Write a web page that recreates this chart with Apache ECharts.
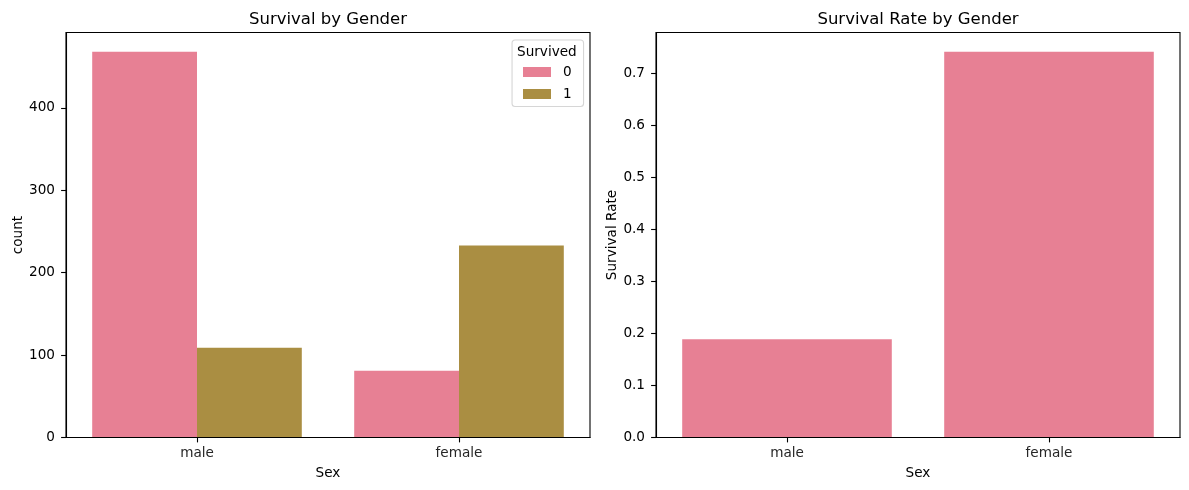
<!DOCTYPE html>
<html>
<head>
<meta charset="utf-8">
<style>html,body{margin:0;padding:0;background:#fff}#c{width:1189px;height:490px}</style>
<script src="https://cdn.jsdelivr.net/npm/echarts@6/dist/echarts.min.js"></script>
</head>
<body>
<div id="c"></div>
<script>
const categories = ["male", "female"];
const survivedNo = [468, 81];
const survivedYes = [109, 233];
const survivalRate = [0.189, 0.742];
const countTicks = [0, 100, 200, 300, 400];
const rateTicks = [0, 0.1, 0.2, 0.3, 0.4, 0.5, 0.6, 0.7];
const FONT = "DejaVu Sans";
const PINK = "#e78094", GOLD = "#aa8e42";

const chart = echarts.init(document.getElementById("c"), null, {renderer: "canvas"});
function xAxis(i) {
  return {
    type: "category", gridIndex: i, data: categories,
    name: "Sex", nameLocation: "middle", nameGap: 29,
    nameTextStyle: {color: "#000", fontFamily: FONT, fontSize: 13.6},
    axisLine: {show: true, onZero: false, lineStyle: {color: "#000", width: 1.1}},
    axisTick: {show: true, alignWithLabel: true, length: 4.9, lineStyle: {color: "#000", width: 1.1}},
    axisLabel: {color: "#262626", fontFamily: FONT, fontSize: 13.6, margin: 9},
    splitLine: {show: false}, z: 5
  };
}
function yAxis(i, name, max, ticks, gap, fmt) {
  return {
    type: "value", gridIndex: i, min: 0, max: max,
    name: name, nameLocation: "middle", nameGap: gap,
    nameTextStyle: {color: "#000", fontFamily: FONT, fontSize: 13.6},
    axisLine: {show: true, lineStyle: {color: "#000", width: 1.1}},
    axisTick: {show: true, length: 4.9, lineStyle: {color: "#000", width: 1.1}, customValues: ticks},
    axisLabel: {color: "#000", fontFamily: FONT, fontSize: 13.6, margin: 11, customValues: ticks, formatter: fmt},
    splitLine: {show: false}, z: 5
  };
}
chart.setOption({
  animation: false,
  backgroundColor: "#fff",
  title: [
    {text: "Survival by Gender", left: 328, top: 11, padding: 0, textAlign: "center",
     textStyle: {color: "#000", fontFamily: FONT, fontSize: 16.5, fontWeight: "normal"}},
    {text: "Survival Rate by Gender", left: 918, top: 11, padding: 0, textAlign: "center",
     textStyle: {color: "#000", fontFamily: FONT, fontSize: 16.5, fontWeight: "normal"}}
  ],
  grid: [
    {left: 66, top: 32.5, width: 524, height: 405, show: true, borderColor: "#000", borderWidth: 1.1, backgroundColor: "transparent"},
    {left: 656, top: 32.5, width: 524, height: 405, show: true, borderColor: "#000", borderWidth: 1.1, backgroundColor: "transparent"}
  ],
  xAxis: [xAxis(0), xAxis(1)],
  yAxis: [
    yAxis(0, "count", 491.4, countTicks, 41, v => String(v)),
    yAxis(1, "Survival Rate", 0.779, rateTicks, 37, v => v.toFixed(1))
  ],
  legend: {
    data: ["0", "1"], orient: "vertical", left: 523, top: 65, padding: 0,
    itemWidth: 28, itemHeight: 10, itemGap: 8, icon: "rect", selectedMode: false,
    textStyle: {color: "#000", fontFamily: FONT, fontSize: 13.6, padding: [1, 0, 0, 7]}
  },
  graphic: [
    {type: "rect", left: 511.5, top: 39.5, z: 1,
     shape: {width: 71.5, height: 66.5, r: 3},
     style: {fill: "rgba(255,255,255,0.8)", stroke: "#d6d6d6", lineWidth: 1.1}},
    {type: "text", left: 517, top: 45, z: 10,
     style: {text: "Survived", fill: "#000", font: "13.6px 'DejaVu Sans'"}}
  ],
  series: [
    {name: "0", type: "bar", xAxisIndex: 0, yAxisIndex: 0, data: survivedNo, barGap: "0%", barCategoryGap: "20%", itemStyle: {color: PINK}},
    {name: "1", type: "bar", xAxisIndex: 0, yAxisIndex: 0, data: survivedYes, barGap: "0%", barCategoryGap: "20%", itemStyle: {color: GOLD}},
    {name: "Survival Rate", type: "bar", xAxisIndex: 1, yAxisIndex: 1, data: survivalRate, barCategoryGap: "20%", itemStyle: {color: PINK}}
  ]
});
</script>
</body>
</html>
